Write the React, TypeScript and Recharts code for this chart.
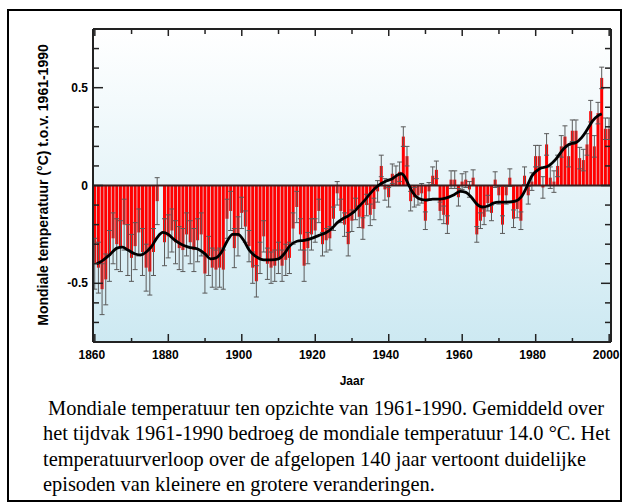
import React from 'react';
import { ComposedChart, Bar, Line, XAxis, YAxis, ErrorBar, ReferenceLine, CartesianGrid } from 'recharts';

// jaarlijkse afwijking t.o.v. 1961-1990 (°C), 1860 t/m 2000
const firstYear = 1860;
const anomalies = [
  -0.40, -0.42, -0.53, -0.48, -0.36, -0.27, -0.30, -0.31, -0.20, -0.33,
  -0.37, -0.31, -0.24, -0.34, -0.42, -0.44, -0.34, -0.08, 0.00, -0.29,
  -0.26, -0.23, -0.29, -0.32, -0.33, -0.25, -0.29, -0.33, -0.28, -0.25,
  -0.45, -0.36, -0.42, -0.43, -0.42, -0.43, -0.17, -0.13, -0.32, -0.26,
  -0.14, -0.21, -0.31, -0.42, -0.49, -0.37, -0.26, -0.40, -0.42, -0.41,
  -0.37, -0.41, -0.38, -0.37, -0.22, -0.11, -0.25, -0.41, -0.32, -0.25,
  -0.23, -0.13, -0.30, -0.28, -0.27, -0.17, -0.04, -0.13, -0.20, -0.30,
  -0.18, -0.12, -0.16, -0.22, -0.10, -0.15, -0.12, -0.03, 0.10, -0.02,
  -0.06, 0.06, 0.05, 0.07, 0.25, 0.15, -0.08, -0.06, -0.05, -0.04,
  -0.18, -0.03, 0.05, 0.08, -0.13, -0.15, -0.20, 0.03, 0.03, -0.06,
  0.02, 0.03, -0.02, 0.04, -0.25, -0.18, -0.16, -0.09, -0.14, 0.03,
  -0.05, -0.20, -0.05, 0.04, -0.17, -0.12, -0.18, 0.05, -0.05, 0.02,
  0.15, 0.15, -0.01, 0.21, 0.04, 0.02, 0.10, 0.20, 0.25, 0.15,
  0.28, 0.28, 0.14, 0.13, 0.21, 0.38, 0.20, 0.37, 0.55, 0.29,
  0.29,
];

// halve breedte van de foutbalken per decennium (1860s ... 2000)
const errByDecade = [0.13, 0.12, 0.11, 0.10, 0.08, 0.08, 0.06, 0.055, 0.05, 0.045, 0.04, 0.045, 0.055, 0.055, 0.055];

const curveYears = [
  1860.5, 1862, 1864, 1866, 1867.5, 1869, 1871, 1872.5, 1874, 1875.5, 1877, 1878.5, 1880, 1881.5, 1883.5,
  1885.5, 1888, 1890, 1891.5, 1893, 1894.5, 1896, 1897.5, 1899, 1900.5, 1902, 1904, 1906, 1908, 1910,
  1911.5, 1913, 1915, 1917, 1919, 1921, 1923, 1924.5, 1926, 1927.5, 1929, 1930.5, 1932, 1933.5, 1935,
  1936.5, 1938, 1939.5, 1941, 1942.5, 1943.5, 1944.5, 1945.5, 1946.5, 1948, 1950, 1952, 1954, 1955.5,
  1957.5, 1959.5, 1961, 1962.5, 1964, 1965.5, 1967, 1968.5, 1970, 1972, 1974.5, 1976, 1977.5, 1979,
  1981, 1983.5, 1985.5, 1987.5, 1989, 1991, 1992.5, 1994, 1995.5, 1997, 1998,
];
const curveValues = [
  -0.40, -0.385, -0.355, -0.32, -0.315, -0.33, -0.35, -0.355, -0.34, -0.31, -0.265, -0.24, -0.25, -0.275, -0.30,
  -0.315, -0.325, -0.35, -0.375, -0.37, -0.34, -0.285, -0.25, -0.25, -0.28, -0.33, -0.365, -0.38, -0.38, -0.375,
  -0.35, -0.31, -0.285, -0.28, -0.27, -0.255, -0.24, -0.22, -0.19, -0.17, -0.155, -0.135, -0.105, -0.075, -0.04,
  -0.01, 0.01, 0.025, 0.035, 0.055, 0.06, 0.04, 0.0, -0.035, -0.065, -0.075, -0.07, -0.07, -0.065,
  -0.05, -0.03, -0.035, -0.06, -0.095, -0.11, -0.105, -0.09, -0.085, -0.085, -0.08, -0.06, -0.01, 0.05,
  0.085, 0.10, 0.135, 0.185, 0.21, 0.22, 0.245, 0.285, 0.33, 0.357, 0.366,
];

const xTicks = [1860, 1870, 1880, 1890, 1900, 1910, 1920, 1930, 1940, 1950, 1960, 1970, 1980, 1990, 2000];
const yTicks = [-0.7, -0.6, -0.5, -0.4, -0.3, -0.2, -0.1, 0, 0.1, 0.2, 0.3, 0.4, 0.5, 0.6, 0.7];

const barData = anomalies.map((v, i) => ({
  year: firstYear + i,
  temp: v,
  err: errByDecade[Math.floor(i / 10)],
}));
const curveData = curveYears.map((y, i) => ({ year: y, smooth: curveValues[i] }));

const axisFont = '"Liberation Sans", Arial, sans-serif';
const tickColor = '#222';

const isMajorY = (v: number) => Math.abs(Math.abs(v) - 0.5) < 1e-6 || Math.abs(v) < 1e-6;

const BottomTick = (props: any) => {
  const { x, y, payload } = props;
  const major = payload.value % 20 === 0;
  return (
    <g>
      <line x1={x} x2={x} y1={y} y2={y - (major ? 8 : 4)} stroke={tickColor} strokeWidth={1.5} />
      {major && (
        <text x={x - 3} y={y + 17} textAnchor="middle" fontFamily={axisFont} fontWeight="bold" fontSize={12} fill="#000">
          {payload.value}
        </text>
      )}
    </g>
  );
};

const TopTick = (props: any) => {
  const { x, y, payload } = props;
  const major = payload.value % 20 === 0;
  return <line x1={x} x2={x} y1={y} y2={y + (major ? 7 : 5)} stroke={tickColor} strokeWidth={1.5} />;
};

const LeftTick = (props: any) => {
  const { x, y, payload } = props;
  const v = payload.value;
  const major = isMajorY(v);
  const label = Math.abs(v) < 1e-6 ? '0' : v < 0 ? '-' + Math.abs(v).toFixed(1) : v.toFixed(1);
  return (
    <g>
      <line x1={x} x2={x + (major ? 10 : 6)} y1={y} y2={y} stroke={tickColor} strokeWidth={1.5} />
      {major && (
        <text x={x - 5} y={y + 4} textAnchor="end" fontFamily={axisFont} fontWeight="bold" fontSize={12} fill="#000">
          {label}
        </text>
      )}
    </g>
  );
};

const RightTick = (props: any) => {
  const { x, y, payload } = props;
  const major = isMajorY(payload.value);
  return <line x1={x} x2={x - (major ? 10 : 6)} y1={y} y2={y} stroke={tickColor} strokeWidth={1.5} />;
};

const App: React.FC = () => {
  return (
    <div style={{ position: 'absolute', left: 0, top: 0, width: 627, height: 503, background: '#fff' }}>
      <div
        style={{
          position: 'absolute',
          left: 7,
          top: 9,
          width: 615,
          height: 493,
          border: '2px solid #000',
          boxSizing: 'border-box',
        }}
      />
      <div style={{ position: 'absolute', left: 0, top: 0 }}>
        <ComposedChart
          width={627}
          height={400}
          data={barData}
          barCategoryGap="6%"
          margin={{ top: 28, right: 15, bottom: 57, left: 92 }}
        >
          <defs>
            <linearGradient id="bgGrad" x1="0" y1="0" x2="0" y2="1">
              <stop offset="0%" stopColor="#ffffff" />
              <stop offset="100%" stopColor="#cde9f2" />
            </linearGradient>
          </defs>
          <CartesianGrid horizontal={false} vertical={false} fill="url(#bgGrad)" stroke="none" />
          <XAxis xAxisId="cat" dataKey="year" type="category" hide />
          <XAxis
            dataKey="year"
            type="number"
            domain={[1859.5, 2000.5]}
            allowDataOverflow
            ticks={xTicks}
            interval={0}
            height={1}
            tickSize={0}
            tickMargin={0}
            tickLine={false}
            tick={<BottomTick />}
            axisLine={{ stroke: tickColor, strokeWidth: 2 }}
          />
          <XAxis
            xAxisId="top"
            orientation="top"
            dataKey="year"
            type="number"
            domain={[1859.5, 2000.5]}
            allowDataOverflow
            ticks={xTicks}
            interval={0}
            height={1}
            tickSize={0}
            tickMargin={0}
            tickLine={false}
            tick={<TopTick />}
            axisLine={{ stroke: tickColor, strokeWidth: 2 }}
          />
          <YAxis
            type="number"
            domain={[-0.8, 0.8]}
            allowDataOverflow
            ticks={yTicks}
            interval={0}
            width={1}
            tickSize={0}
            tickMargin={0}
            tickLine={false}
            tick={<LeftTick />}
            axisLine={{ stroke: tickColor, strokeWidth: 2 }}
          />
          <YAxis
            yAxisId="right"
            orientation="right"
            type="number"
            domain={[-0.8, 0.8]}
            allowDataOverflow
            ticks={yTicks}
            interval={0}
            width={1}
            tickSize={0}
            tickMargin={0}
            tickLine={false}
            tick={<RightTick />}
            axisLine={{ stroke: tickColor, strokeWidth: 2 }}
          />
          <Bar xAxisId="cat" dataKey="temp" fill="#ff0000" isAnimationActive={false}>
            <ErrorBar dataKey="err" direction="y" width={2.5} strokeWidth={1} stroke="#5a5a5a" />
          </Bar>
          <ReferenceLine y={0} stroke="#3a2020" strokeWidth={2} />
          <Line
            data={curveData}
            dataKey="smooth"
            type="monotone"
            stroke="#000"
            strokeWidth={2.8}
            dot={false}
            isAnimationActive={false}
          />
        </ComposedChart>
      </div>
      <div
        style={{
          position: 'absolute',
          left: 43,
          top: 185,
          transform: 'translate(-50%, -50%) rotate(-90deg)',
          whiteSpace: 'nowrap',
          fontFamily: axisFont,
          fontWeight: 'bold',
          fontSize: 14,
        }}
      >
        Mondiale temperatuur (°C) t.o.v. 1961-1990
      </div>
      <div
        style={{
          position: 'absolute',
          left: 352,
          top: 381,
          transform: 'translate(-50%, -50%)',
          fontFamily: axisFont,
          fontWeight: 'bold',
          fontSize: 12,
        }}
      >
        Jaar
      </div>
      <div
        style={{
          position: 'absolute',
          left: 43,
          top: 396,
          fontFamily: '"Liberation Serif", "Times New Roman", serif',
          fontSize: 20.4,
          lineHeight: '25.3px',
          whiteSpace: 'pre',
          color: '#000',
        }}
      >
        {' Mondiale temperatuur ten opzichte van 1961-1990. Gemiddeld over\n' +
          'het tijdvak 1961-1990 bedroeg de mondiale temperatuur 14.0 °C. Het\n' +
          'temperatuurverloop over de afgelopen 140 jaar vertoont duidelijke\n' +
          'episoden van kleinere en grotere veranderingen.'}
      </div>
    </div>
  );
};

export default App;
